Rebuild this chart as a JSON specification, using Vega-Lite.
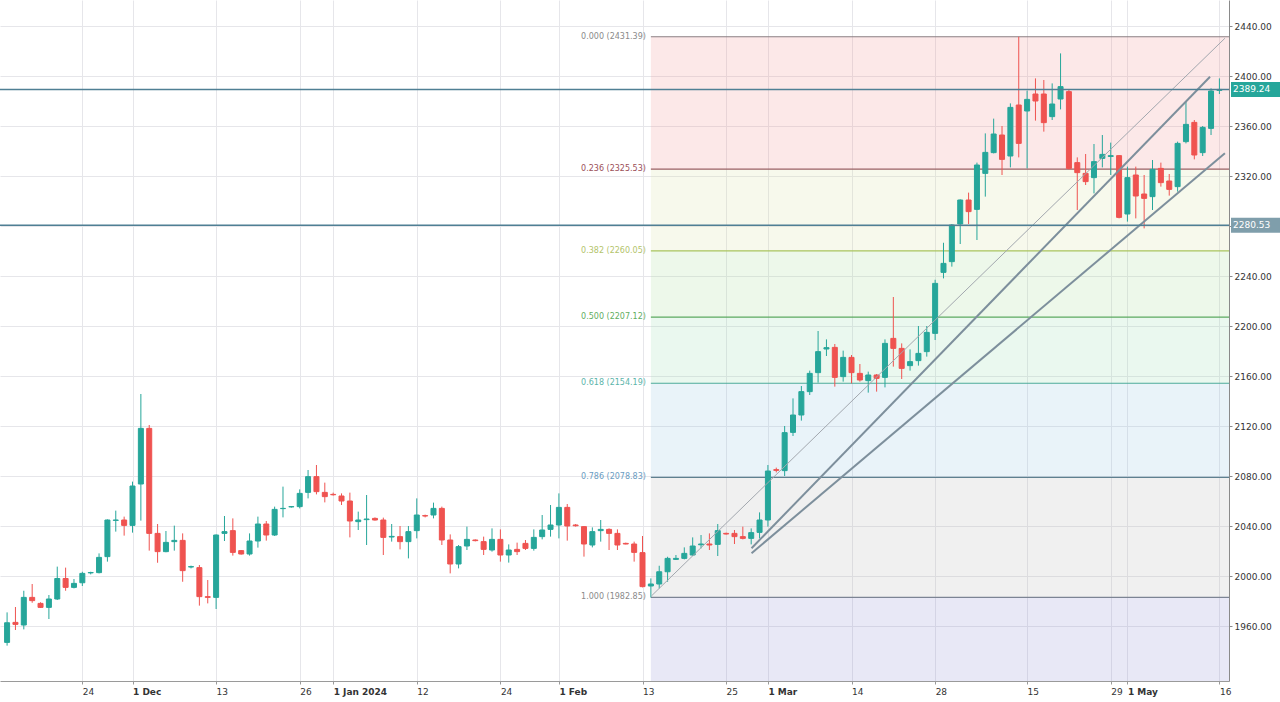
{
  "$schema": "https://vega.github.io/schema/vega-lite/v6.json",
  "width": 1229,
  "height": 681,
  "autosize": {"type": "none"},
  "padding": {"left": 0, "top": 0, "right": 51, "bottom": 21},
  "background": "#ffffff",
  "config": {
    "view": {"stroke": null},
    "font": "DejaVu Sans",
    "axis": {"title": null, "grid": true, "gridColor": "#e6e6ea", "gridWidth": 1, "tickSize": 3, "labelFont": "DejaVu Sans", "labelFontSize": 9, "labelColor": "#333333", "labelFlush": false, "labelOverlap": false},
    "axisX": {"domainColor": "#9a9a9a", "tickColor": "#9a9a9a", "labelAlign": "left", "labelPadding": 3},
    "axisY": {"domainColor": "#8a8a8a", "tickColor": "#8a8a8a", "labelPadding": 2}
  },
  "datasets": {
    "candles": [
      {"i":0,"o":1946.9,"h":1970.9,"l":1944.3,"c":1962.6},
      {"i":1,"o":1962.9,"h":1975.2,"l":1956.8,"c":1961.3},
      {"i":2,"o":1960.8,"h":1988.2,"l":1957.3,"c":1982.9},
      {"i":3,"o":1982.9,"h":1993.6,"l":1978.6,"c":1980.3},
      {"i":4,"o":1978.1,"h":1979.0,"l":1974.4,"c":1974.9},
      {"i":5,"o":1974.9,"h":1984.8,"l":1965.6,"c":1981.6},
      {"i":6,"o":1981.6,"h":2007.5,"l":1980.8,"c":1998.0},
      {"i":7,"o":1998.0,"h":2006.7,"l":1988.2,"c":1990.9},
      {"i":8,"o":1990.9,"h":1997.6,"l":1990.1,"c":1994.1},
      {"i":9,"o":1994.6,"h":2003.4,"l":1992.0,"c":2002.1},
      {"i":10,"o":2002.5,"h":2003.4,"l":2001.3,"c":2002.8},
      {"i":11,"o":2002.7,"h":2018.1,"l":2002.1,"c":2014.9},
      {"i":12,"o":2015.5,"h":2045.3,"l":2011.5,"c":2044.8},
      {"i":13,"o":2044.5,"h":2052.3,"l":2035.5,"c":2044.8},
      {"i":14,"o":2044.8,"h":2047.5,"l":2032.3,"c":2040.5},
      {"i":15,"o":2040.5,"h":2075.5,"l":2034.7,"c":2072.0},
      {"i":16,"o":2073.6,"h":2145.6,"l":2044.3,"c":2118.1},
      {"i":17,"o":2118.1,"h":2120.8,"l":2020.3,"c":2034.1},
      {"i":18,"o":2034.1,"h":2041.6,"l":2010.6,"c":2019.5},
      {"i":19,"o":2019.5,"h":2036.0,"l":2019.0,"c":2026.9},
      {"i":20,"o":2027.5,"h":2040.3,"l":2020.3,"c":2028.5},
      {"i":21,"o":2028.5,"h":2034.1,"l":1995.4,"c":2004.3},
      {"i":22,"o":2007.2,"h":2008.3,"l":2006.1,"c":2007.5},
      {"i":23,"o":2006.7,"h":2008.8,"l":1976.3,"c":1983.5},
      {"i":24,"o":1983.5,"h":1996.8,"l":1978.1,"c":1982.9},
      {"i":25,"o":1982.9,"h":2033.3,"l":1973.6,"c":2032.8},
      {"i":26,"o":2034.1,"h":2048.0,"l":2028.0,"c":2035.5},
      {"i":27,"o":2036.3,"h":2046.1,"l":2016.3,"c":2018.9},
      {"i":28,"o":2020.3,"h":2020.8,"l":2017.1,"c":2017.6},
      {"i":29,"o":2017.6,"h":2034.1,"l":2016.3,"c":2028.0},
      {"i":30,"o":2028.0,"h":2047.5,"l":2022.7,"c":2041.6},
      {"i":31,"o":2041.6,"h":2044.0,"l":2028.3,"c":2032.8},
      {"i":32,"o":2032.8,"h":2055.5,"l":2032.0,"c":2053.3},
      {"i":33,"o":2053.9,"h":2071.5,"l":2046.9,"c":2054.1},
      {"i":34,"o":2055.3,"h":2056.0,"l":2054.7,"c":2055.5},
      {"i":35,"o":2055.5,"h":2069.3,"l":2054.1,"c":2066.1},
      {"i":36,"o":2066.9,"h":2084.8,"l":2062.1,"c":2079.5},
      {"i":37,"o":2079.5,"h":2088.8,"l":2065.3,"c":2067.5},
      {"i":38,"o":2066.9,"h":2074.7,"l":2058.9,"c":2063.5},
      {"i":39,"o":2065.3,"h":2066.7,"l":2064.3,"c":2065.0},
      {"i":40,"o":2064.0,"h":2066.1,"l":2056.8,"c":2060.0},
      {"i":41,"o":2060.0,"h":2066.7,"l":2030.9,"c":2044.0},
      {"i":42,"o":2043.5,"h":2051.5,"l":2036.8,"c":2044.8},
      {"i":43,"o":2045.1,"h":2064.8,"l":2024.8,"c":2045.6},
      {"i":44,"o":2046.1,"h":2046.9,"l":2044.3,"c":2044.8},
      {"i":45,"o":2044.8,"h":2046.7,"l":2016.8,"c":2030.9},
      {"i":46,"o":2031.2,"h":2041.6,"l":2027.5,"c":2031.7},
      {"i":47,"o":2031.5,"h":2040.0,"l":2021.3,"c":2027.5},
      {"i":48,"o":2027.5,"h":2040.0,"l":2014.1,"c":2035.5},
      {"i":49,"o":2036.3,"h":2062.1,"l":2030.1,"c":2048.8},
      {"i":50,"o":2048.3,"h":2049.1,"l":2046.9,"c":2048.0},
      {"i":51,"o":2048.8,"h":2058.7,"l":2046.1,"c":2054.1},
      {"i":52,"o":2054.1,"h":2055.5,"l":2024.8,"c":2028.8},
      {"i":53,"o":2028.8,"h":2033.3,"l":2002.1,"c":2009.6},
      {"i":54,"o":2009.6,"h":2024.8,"l":2006.1,"c":2023.5},
      {"i":55,"o":2024.0,"h":2039.5,"l":2020.8,"c":2029.3},
      {"i":56,"o":2028.8,"h":2029.3,"l":2027.7,"c":2028.3},
      {"i":57,"o":2027.5,"h":2031.5,"l":2016.8,"c":2021.3},
      {"i":58,"o":2020.8,"h":2038.1,"l":2019.5,"c":2029.3},
      {"i":59,"o":2029.3,"h":2037.3,"l":2011.5,"c":2016.8},
      {"i":60,"o":2016.8,"h":2025.3,"l":2010.7,"c":2020.8},
      {"i":61,"o":2021.3,"h":2026.7,"l":2016.8,"c":2019.5},
      {"i":62,"o":2026.1,"h":2028.8,"l":2020.8,"c":2022.1},
      {"i":63,"o":2022.1,"h":2037.3,"l":2020.3,"c":2030.9},
      {"i":64,"o":2031.5,"h":2048.8,"l":2029.3,"c":2036.8},
      {"i":65,"o":2037.3,"h":2056.8,"l":2031.5,"c":2040.8},
      {"i":66,"o":2040.8,"h":2066.1,"l":2030.1,"c":2054.9},
      {"i":67,"o":2054.9,"h":2057.6,"l":2028.3,"c":2040.0},
      {"i":68,"o":2040.8,"h":2041.6,"l":2039.5,"c":2040.2},
      {"i":69,"o":2039.5,"h":2040.0,"l":2015.5,"c":2025.6},
      {"i":70,"o":2024.8,"h":2038.9,"l":2022.9,"c":2035.5},
      {"i":71,"o":2036.3,"h":2044.8,"l":2027.5,"c":2037.3},
      {"i":72,"o":2037.3,"h":2038.1,"l":2020.8,"c":2034.1},
      {"i":73,"o":2034.1,"h":2037.3,"l":2020.8,"c":2024.8},
      {"i":74,"o":2026.1,"h":2026.7,"l":2025.3,"c":2025.6},
      {"i":75,"o":2025.6,"h":2027.5,"l":2011.5,"c":2018.9},
      {"i":76,"o":2018.7,"h":2032.0,"l":1990.9,"c":1991.5},
      {"i":77,"o":1992.0,"h":1998.1,"l":1982.85,"c":1993.6},
      {"i":78,"o":1993.6,"h":2008.2,"l":1990.1,"c":2003.4},
      {"i":79,"o":2003.4,"h":2015.4,"l":1995.4,"c":2014.1},
      {"i":80,"o":2013.3,"h":2016.8,"l":2012.8,"c":2014.1},
      {"i":81,"o":2014.1,"h":2022.9,"l":2013.3,"c":2018.1},
      {"i":82,"o":2016.8,"h":2030.9,"l":2016.0,"c":2024.0},
      {"i":83,"o":2025.0,"h":2032.8,"l":2022.1,"c":2025.6},
      {"i":84,"o":2025.6,"h":2034.1,"l":2020.8,"c":2024.8},
      {"i":85,"o":2025.3,"h":2041.6,"l":2016.0,"c":2036.3},
      {"i":86,"o":2034.1,"h":2034.7,"l":2033.1,"c":2033.6},
      {"i":87,"o":2034.1,"h":2036.8,"l":2025.6,"c":2031.5},
      {"i":88,"o":2031.5,"h":2039.5,"l":2029.3,"c":2030.1},
      {"i":89,"o":2030.1,"h":2038.1,"l":2025.3,"c":2034.7},
      {"i":90,"o":2034.9,"h":2050.9,"l":2030.1,"c":2044.8},
      {"i":91,"o":2044.8,"h":2088.8,"l":2039.5,"c":2084.0},
      {"i":92,"o":2085.1,"h":2086.7,"l":2082.9,"c":2084.5},
      {"i":93,"o":2084.3,"h":2120.0,"l":2080.0,"c":2114.7},
      {"i":94,"o":2114.9,"h":2142.1,"l":2112.0,"c":2128.8},
      {"i":95,"o":2128.8,"h":2152.0,"l":2124.3,"c":2147.5},
      {"i":96,"o":2147.5,"h":2164.3,"l":2144.8,"c":2162.1},
      {"i":97,"o":2162.7,"h":2196.0,"l":2154.7,"c":2179.5},
      {"i":98,"o":2181.6,"h":2189.3,"l":2176.0,"c":2182.7},
      {"i":99,"o":2182.9,"h":2185.6,"l":2151.5,"c":2158.9},
      {"i":100,"o":2159.5,"h":2180.3,"l":2155.5,"c":2174.9},
      {"i":101,"o":2174.9,"h":2176.8,"l":2154.1,"c":2162.7},
      {"i":102,"o":2162.1,"h":2169.6,"l":2155.5,"c":2156.8},
      {"i":103,"o":2156.3,"h":2163.5,"l":2146.7,"c":2160.8},
      {"i":104,"o":2160.8,"h":2161.6,"l":2147.5,"c":2158.1},
      {"i":105,"o":2158.9,"h":2189.3,"l":2150.9,"c":2186.1},
      {"i":106,"o":2190.1,"h":2223.2,"l":2167.5,"c":2182.1},
      {"i":107,"o":2182.1,"h":2186.1,"l":2157.6,"c":2166.1},
      {"i":108,"o":2168.3,"h":2181.3,"l":2164.3,"c":2171.5},
      {"i":109,"o":2172.3,"h":2200.0,"l":2168.3,"c":2178.1},
      {"i":110,"o":2179.5,"h":2200.0,"l":2175.5,"c":2194.9},
      {"i":111,"o":2194.1,"h":2237.0,"l":2188.8,"c":2234.1},
      {"i":112,"o":2242.9,"h":2266.6,"l":2238.1,"c":2250.1},
      {"i":113,"o":2251.5,"h":2281.6,"l":2247.5,"c":2280.8},
      {"i":114,"o":2281.6,"h":2301.3,"l":2265.6,"c":2300.8},
      {"i":115,"o":2300.8,"h":2306.7,"l":2281.6,"c":2291.5},
      {"i":116,"o":2293.3,"h":2330.7,"l":2268.8,"c":2328.8},
      {"i":117,"o":2322.1,"h":2354.1,"l":2303.5,"c":2338.9},
      {"i":118,"o":2338.7,"h":2365.9,"l":2338.1,"c":2353.6},
      {"i":119,"o":2352.8,"h":2360.0,"l":2320.8,"c":2333.3},
      {"i":120,"o":2336.0,"h":2378.1,"l":2326.9,"c":2374.9},
      {"i":121,"o":2376.8,"h":2431.39,"l":2334.9,"c":2346.1},
      {"i":122,"o":2372.0,"h":2388.3,"l":2326.1,"c":2381.3},
      {"i":123,"o":2385.6,"h":2398.1,"l":2364.3,"c":2380.0},
      {"i":124,"o":2385.6,"h":2396.8,"l":2355.5,"c":2362.7},
      {"i":125,"o":2367.5,"h":2394.1,"l":2364.8,"c":2377.6},
      {"i":126,"o":2381.6,"h":2418.1,"l":2373.3,"c":2391.5},
      {"i":127,"o":2387.5,"h":2388.8,"l":2325.3,"c":2326.1},
      {"i":128,"o":2330.7,"h":2334.9,"l":2292.8,"c":2322.7},
      {"i":129,"o":2322.1,"h":2337.6,"l":2312.8,"c":2315.5},
      {"i":130,"o":2318.7,"h":2345.6,"l":2306.1,"c":2331.5},
      {"i":131,"o":2334.1,"h":2352.8,"l":2326.9,"c":2337.3},
      {"i":132,"o":2335.6,"h":2346.7,"l":2320.8,"c":2336.3},
      {"i":133,"o":2336.3,"h":2336.8,"l":2286.1,"c":2286.9},
      {"i":134,"o":2289.6,"h":2327.5,"l":2283.5,"c":2318.7},
      {"i":135,"o":2320.8,"h":2327.5,"l":2286.1,"c":2304.0},
      {"i":136,"o":2305.6,"h":2320.8,"l":2278.1,"c":2302.1},
      {"i":137,"o":2303.5,"h":2332.8,"l":2292.8,"c":2325.3},
      {"i":138,"o":2326.1,"h":2330.7,"l":2311.5,"c":2314.7},
      {"i":139,"o":2316.0,"h":2321.6,"l":2304.3,"c":2309.3},
      {"i":140,"o":2311.5,"h":2347.5,"l":2307.5,"c":2346.1},
      {"i":141,"o":2347.5,"h":2379.5,"l":2346.1,"c":2361.3},
      {"i":142,"o":2362.9,"h":2364.8,"l":2333.3,"c":2336.8},
      {"i":143,"o":2338.7,"h":2360.0,"l":2336.0,"c":2358.9},
      {"i":144,"o":2358.1,"h":2390.1,"l":2352.8,"c":2388.0},
      {"i":145,"o":2388.5,"h":2398.1,"l":2385.6,"c":2389.24}
    ],
    "fibBands": [
      {"band":"0-0.236","i":77,"p":2431.39,"p2":2325.53},
      {"band":"0.236-0.382","i":77,"p":2325.53,"p2":2260.05},
      {"band":"0.382-0.5","i":77,"p":2260.05,"p2":2207.12},
      {"band":"0.5-0.618","i":77,"p":2207.12,"p2":2154.19},
      {"band":"0.618-0.786","i":77,"p":2154.19,"p2":2078.83},
      {"band":"0.786-1","i":77,"p":2078.83,"p2":1982.85},
      {"band":"1-1.618","i":77,"p":1982.85,"p2":1705.65}
    ],
    "fibLevels": [
      {"lvl":"0.000","i":77,"p":2431.39,"t":"0.000 (2431.39)"},
      {"lvl":"0.236","i":77,"p":2325.53,"t":"0.236 (2325.53)"},
      {"lvl":"0.382","i":77,"p":2260.05,"t":"0.382 (2260.05)"},
      {"lvl":"0.500","i":77,"p":2207.12,"t":"0.500 (2207.12)"},
      {"lvl":"0.618","i":77,"p":2154.19,"t":"0.618 (2154.19)"},
      {"lvl":"0.786","i":77,"p":2078.83,"t":"0.786 (2078.83)"},
      {"lvl":"1.000","i":77,"p":1982.85,"t":"1.000 (1982.85)"}
    ],
    "trend": [
      {"id":"thin","i":77.06,"p":1984.0},
      {"id":"thin","i":145.66,"p":2430.2},
      {"id":"A","i":89.04,"p":2022.2},
      {"id":"A","i":143.88,"p":2399.4},
      {"id":"B","i":89.04,"p":2018.2},
      {"id":"B","i":145.66,"p":2338.2}
    ],
    "levels": [
      {"k":"last","p":2389.24,"t":"2389.24"},
      {"k":"level","p":2280.53,"t":"2280.53"}
    ]
  },
  "layer": [
    {
      "data": {"name": "fibBands"},
      "mark": {"type": "rect", "opacity": 0.2, "clip": true},
      "encoding": {
        "x": {"field": "i", "type": "quantitative",
          "scale": {"domain": [-0.25, 145.55], "nice": false, "zero": false},
          "axis": {"orient": "bottom", "title": null,
            "values": [9,15,25,35,39,49,59,66,76,86,91,101,111,122,132,134,145],
            "labelExpr": "['24','1 Dec','13','26','1 Jan 2024','12','24','1 Feb','13','25','1 Mar','14','28','15','29','1 May','16'][indexof([9,15,25,35,39,49,59,66,76,86,91,101,111,122,132,134,145], datum.value)]",
            "labelFontWeight": {"condition": {"test": "indexof([15,39,66,91,134], datum.value) >= 0", "value": "bold"}, "value": "normal"}}},
        "x2": {"value": "width"},
        "y": {"field": "p", "type": "quantitative",
          "scale": {"domain": [1916, 2460.8], "nice": false, "zero": false},
          "axis": {"orient": "right", "title": null, "format": ".2f",
            "values": [1960,2000,2040,2080,2120,2160,2200,2240,2280,2320,2360,2400,2440]}},
        "y2": {"field": "p2"},
        "color": {"field": "band", "type": "nominal", "legend": null,
          "scale": {"domain": ["0-0.236","0.236-0.382","0.382-0.5","0.5-0.618","0.618-0.786","0.786-1","1-1.618"],
                    "range": ["#f08c8c","#d7e1a0","#a5dc96","#96dcaf","#91c3e1","#b4b4b4","#8c8cd2"]}}
      }
    },
    {
      "data": {"name": "fibLevels"},
      "mark": {"type": "rule", "strokeWidth": 1.2, "clip": true},
      "encoding": {
        "x": {"field": "i", "type": "quantitative",
          "scale": {"domain": [-0.25, 145.55], "nice": false, "zero": false},
          "axis": {"orient": "bottom", "title": null,
            "values": [9,15,25,35,39,49,59,66,76,86,91,101,111,122,132,134,145],
            "labelExpr": "['24','1 Dec','13','26','1 Jan 2024','12','24','1 Feb','13','25','1 Mar','14','28','15','29','1 May','16'][indexof([9,15,25,35,39,49,59,66,76,86,91,101,111,122,132,134,145], datum.value)]",
            "labelFontWeight": {"condition": {"test": "indexof([15,39,66,91,134], datum.value) >= 0", "value": "bold"}, "value": "normal"}}},
        "x2": {"value": "width"},
        "y": {"field": "p", "type": "quantitative",
          "scale": {"domain": [1916, 2460.8], "nice": false, "zero": false},
          "axis": {"orient": "right", "title": null, "format": ".2f",
            "values": [1960,2000,2040,2080,2120,2160,2200,2240,2280,2320,2360,2400,2440]}},
        "color": {"field": "lvl", "type": "nominal", "legend": null,
          "scale": {"domain": ["0.000","0.236","0.382","0.500","0.618","0.786","1.000"],
                    "range": ["#8a7e82","#9a5f64","#a9c35e","#5caa60","#4caa9a","#5f808f","#7c8494"]}}
      }
    },
    {
      "data": {"name": "fibLevels"},
      "mark": {"type": "text", "align": "right", "baseline": "middle", "dx": -5, "fontSize": 8, "font": "DejaVu Sans"},
      "encoding": {
        "x": {"field": "i", "type": "quantitative",
          "scale": {"domain": [-0.25, 145.55], "nice": false, "zero": false},
          "axis": {"orient": "bottom", "title": null,
            "values": [9,15,25,35,39,49,59,66,76,86,91,101,111,122,132,134,145],
            "labelExpr": "['24','1 Dec','13','26','1 Jan 2024','12','24','1 Feb','13','25','1 Mar','14','28','15','29','1 May','16'][indexof([9,15,25,35,39,49,59,66,76,86,91,101,111,122,132,134,145], datum.value)]",
            "labelFontWeight": {"condition": {"test": "indexof([15,39,66,91,134], datum.value) >= 0", "value": "bold"}, "value": "normal"}}},
        "y": {"field": "p", "type": "quantitative",
          "scale": {"domain": [1916, 2460.8], "nice": false, "zero": false},
          "axis": {"orient": "right", "title": null, "format": ".2f",
            "values": [1960,2000,2040,2080,2120,2160,2200,2240,2280,2320,2360,2400,2440]}},
        "text": {"field": "t"},
        "color": {"field": "lvl", "type": "nominal", "legend": null,
          "scale": {"domain": ["0.000","0.236","0.382","0.500","0.618","0.786","1.000"],
                    "range": ["#8a8a8a","#9b4f58","#b3c46b","#5fae5f","#5cb5aa","#6a9cc2","#8a8a8a"]}}
      }
    },
    {
      "data": {"name": "candles"},
      "mark": {"type": "rule", "strokeWidth": 1, "clip": true},
      "encoding": {
        "x": {"field": "i", "type": "quantitative",
          "scale": {"domain": [-0.25, 145.55], "nice": false, "zero": false},
          "axis": {"orient": "bottom", "title": null,
            "values": [9,15,25,35,39,49,59,66,76,86,91,101,111,122,132,134,145],
            "labelExpr": "['24','1 Dec','13','26','1 Jan 2024','12','24','1 Feb','13','25','1 Mar','14','28','15','29','1 May','16'][indexof([9,15,25,35,39,49,59,66,76,86,91,101,111,122,132,134,145], datum.value)]",
            "labelFontWeight": {"condition": {"test": "indexof([15,39,66,91,134], datum.value) >= 0", "value": "bold"}, "value": "normal"}}},
        "y": {"field": "l", "type": "quantitative",
          "scale": {"domain": [1916, 2460.8], "nice": false, "zero": false},
          "axis": {"orient": "right", "title": null, "format": ".2f",
            "values": [1960,2000,2040,2080,2120,2160,2200,2240,2280,2320,2360,2400,2440]}},
        "y2": {"field": "h"},
        "color": {"condition": {"test": "datum.c >= datum.o", "value": "#26a69a"}, "value": "#ef5350"}
      }
    },
    {
      "data": {"name": "candles"},
      "mark": {"type": "bar", "size": 5, "strokeWidth": 1, "clip": true},
      "encoding": {
        "x": {"field": "i", "type": "quantitative",
          "scale": {"domain": [-0.25, 145.55], "nice": false, "zero": false},
          "axis": {"orient": "bottom", "title": null,
            "values": [9,15,25,35,39,49,59,66,76,86,91,101,111,122,132,134,145],
            "labelExpr": "['24','1 Dec','13','26','1 Jan 2024','12','24','1 Feb','13','25','1 Mar','14','28','15','29','1 May','16'][indexof([9,15,25,35,39,49,59,66,76,86,91,101,111,122,132,134,145], datum.value)]",
            "labelFontWeight": {"condition": {"test": "indexof([15,39,66,91,134], datum.value) >= 0", "value": "bold"}, "value": "normal"}}},
        "y": {"field": "o", "type": "quantitative",
          "scale": {"domain": [1916, 2460.8], "nice": false, "zero": false},
          "axis": {"orient": "right", "title": null, "format": ".2f",
            "values": [1960,2000,2040,2080,2120,2160,2200,2240,2280,2320,2360,2400,2440]}},
        "y2": {"field": "c"},
        "color": {"condition": {"test": "datum.c >= datum.o", "value": "#26a69a"}, "value": "#ef5350"},
        "stroke": {"condition": {"test": "datum.c >= datum.o", "value": "#26a69a"}, "value": "#ef5350"}
      }
    },
    {
      "data": {"name": "trend"},
      "transform": [{"filter": "datum.id == 'thin'"}],
      "mark": {"type": "line", "strokeWidth": 1, "color": "#a2a7ae", "clip": true},
      "encoding": {
        "x": {"field": "i", "type": "quantitative",
          "scale": {"domain": [-0.25, 145.55], "nice": false, "zero": false},
          "axis": {"orient": "bottom", "title": null,
            "values": [9,15,25,35,39,49,59,66,76,86,91,101,111,122,132,134,145],
            "labelExpr": "['24','1 Dec','13','26','1 Jan 2024','12','24','1 Feb','13','25','1 Mar','14','28','15','29','1 May','16'][indexof([9,15,25,35,39,49,59,66,76,86,91,101,111,122,132,134,145], datum.value)]",
            "labelFontWeight": {"condition": {"test": "indexof([15,39,66,91,134], datum.value) >= 0", "value": "bold"}, "value": "normal"}}},
        "y": {"field": "p", "type": "quantitative",
          "scale": {"domain": [1916, 2460.8], "nice": false, "zero": false},
          "axis": {"orient": "right", "title": null, "format": ".2f",
            "values": [1960,2000,2040,2080,2120,2160,2200,2240,2280,2320,2360,2400,2440]}}
      }
    },
    {
      "data": {"name": "trend"},
      "transform": [{"filter": "datum.id != 'thin'"}],
      "mark": {"type": "line", "strokeWidth": 2, "color": "#7d8f9c", "clip": true},
      "encoding": {
        "x": {"field": "i", "type": "quantitative",
          "scale": {"domain": [-0.25, 145.55], "nice": false, "zero": false},
          "axis": {"orient": "bottom", "title": null,
            "values": [9,15,25,35,39,49,59,66,76,86,91,101,111,122,132,134,145],
            "labelExpr": "['24','1 Dec','13','26','1 Jan 2024','12','24','1 Feb','13','25','1 Mar','14','28','15','29','1 May','16'][indexof([9,15,25,35,39,49,59,66,76,86,91,101,111,122,132,134,145], datum.value)]",
            "labelFontWeight": {"condition": {"test": "indexof([15,39,66,91,134], datum.value) >= 0", "value": "bold"}, "value": "normal"}}},
        "y": {"field": "p", "type": "quantitative",
          "scale": {"domain": [1916, 2460.8], "nice": false, "zero": false},
          "axis": {"orient": "right", "title": null, "format": ".2f",
            "values": [1960,2000,2040,2080,2120,2160,2200,2240,2280,2320,2360,2400,2440]}},
        "detail": {"field": "id"}
      }
    },
    {
      "data": {"name": "levels"},
      "mark": {"type": "rule", "strokeWidth": 1.5, "color": "#4f7f94"},
      "encoding": {
        "y": {"field": "p", "type": "quantitative",
          "scale": {"domain": [1916, 2460.8], "nice": false, "zero": false},
          "axis": {"orient": "right", "title": null, "format": ".2f",
            "values": [1960,2000,2040,2080,2120,2160,2200,2240,2280,2320,2360,2400,2440]}}
      }
    },
    {
      "data": {"name": "levels"},
      "mark": {"type": "rule", "strokeWidth": 15, "strokeCap": "butt", "clip": false},
      "encoding": {
        "x": {"value": {"expr": "width + 2"}},
        "x2": {"value": {"expr": "width + 51"}},
        "y": {"field": "p", "type": "quantitative",
          "scale": {"domain": [1916, 2460.8], "nice": false, "zero": false},
          "axis": {"orient": "right", "title": null, "format": ".2f",
            "values": [1960,2000,2040,2080,2120,2160,2200,2240,2280,2320,2360,2400,2440]}},
        "color": {"field": "k", "type": "nominal", "legend": null,
          "scale": {"domain": ["last","level"], "range": ["#26a69a","#7f9eab"]}}
      }
    },
    {
      "data": {"name": "levels"},
      "mark": {"type": "text", "align": "left", "baseline": "middle", "fontSize": 9, "font": "DejaVu Sans", "color": "#ffffff", "clip": false},
      "encoding": {
        "x": {"value": {"expr": "width + 4"}},
        "y": {"field": "p", "type": "quantitative",
          "scale": {"domain": [1916, 2460.8], "nice": false, "zero": false},
          "axis": {"orient": "right", "title": null, "format": ".2f",
            "values": [1960,2000,2040,2080,2120,2160,2200,2240,2280,2320,2360,2400,2440]}},
        "text": {"field": "t"}
      }
    }
  ],
  "resolve": {"scale": {"color": "independent", "stroke": "independent"}}
}
